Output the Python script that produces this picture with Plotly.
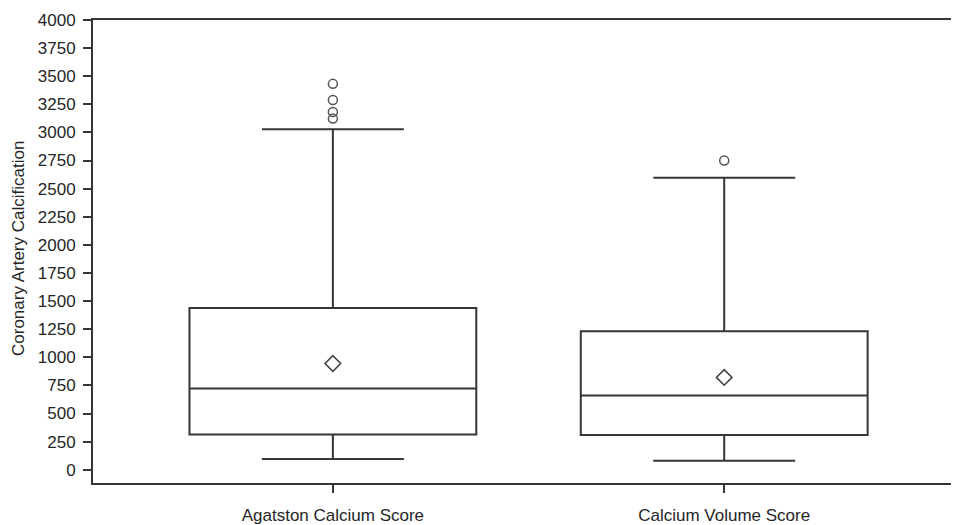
import plotly.graph_objects as go

categories = ["Agatston Calcium Score", "Calcium Volume Score"]
q1_vals = [313, 310]
median_vals = [723, 661]
q3_vals = [1438, 1231]
lower_fence = [95, 80]
upper_fence = [3028, 2598]
mean_vals = [945, 821]
outlier_cats = ["Agatston Calcium Score"] * 4 + ["Calcium Volume Score"]
outlier_vals = [3432, 3288, 3182, 3123, 2751]
y_ticks = list(range(0, 4001, 250))

LINE = "#363636"
TEXT = "#262626"
FONT = "Liberation Sans, Arial, sans-serif"

fig = go.Figure()
fig.add_trace(go.Box(
    x=categories, q1=q1_vals, median=median_vals, q3=q3_vals,
    lowerfence=lower_fence, upperfence=upper_fence,
    width=0.733, whiskerwidth=0.495, boxpoints=False,
    fillcolor="rgba(0,0,0,0)", line=dict(color=LINE, width=2),
    showlegend=False, hoverinfo="skip",
))
fig.add_trace(go.Scatter(
    x=categories, y=mean_vals, mode="markers",
    marker=dict(symbol="diamond-open", size=12, color="#444", line=dict(width=1.6, color="#444")),
    showlegend=False,
))
fig.add_trace(go.Scatter(
    x=outlier_cats, y=outlier_vals, mode="markers",
    marker=dict(symbol="circle-open", size=9, color="#555", line=dict(width=1.5, color="#555")),
    showlegend=False,
))

# page body has an 8px margin: compensate so the plot area lands at the right pixels
fig.update_layout(
    width=951, height=517,
    margin=dict(l=85, r=0, t=12, b=40),
    paper_bgcolor="white", plot_bgcolor="white",
    font=dict(family=FONT, color=TEXT, size=17),
    xaxis=dict(
        type="category", categoryorder="array", categoryarray=categories,
        range=[-0.613, 1.600], showline=True, linecolor=LINE, linewidth=2,
        mirror=True, ticks="outside", ticklen=8, tickwidth=1.5, tickcolor=LINE,
        showgrid=False, zeroline=False, tickfont=dict(size=17, color=TEXT),
        ticklabelstandoff=8,
    ),
    yaxis=dict(
        range=[-118, 4000], tickvals=y_ticks, showline=True, linecolor=LINE, linewidth=2,
        ticks="outside", ticklen=8, tickwidth=1.5, tickcolor=LINE,
        showgrid=False, zeroline=False, tickfont=dict(size=17, color=TEXT),
        ticklabelstandoff=4,
    ),
    annotations=[dict(
        text="Coronary Artery Calcification", xref="paper", yref="paper",
        x=(10 - 85) / 866, y=(485 - 250) / 465, xanchor="center", yanchor="middle",
        textangle=-90, showarrow=False, font=dict(size=17, color=TEXT),
    )],
)

fig.write_html("out.html")
